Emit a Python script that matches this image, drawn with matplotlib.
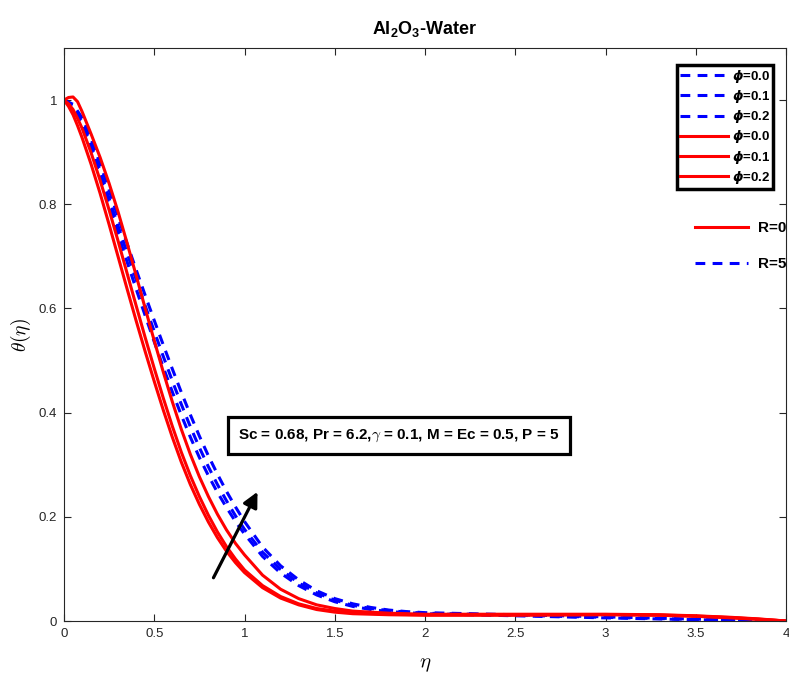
import matplotlib
matplotlib.use("Agg")
import matplotlib.pyplot as plt
from matplotlib.lines import Line2D

plt.rcParams['font.family'] = ['Liberation Sans', 'DejaVu Sans']
plt.rcParams['mathtext.fontset'] = 'custom'
plt.rcParams['mathtext.bf'] = 'Liberation Sans:bold'
plt.rcParams['mathtext.rm'] = 'Liberation Sans'
plt.rcParams['mathtext.it'] = 'DejaVu Sans:italic:bold'

# ---------------- data ----------------
eta_r = [0, 0.025, 0.05, 0.075, 0.1, 0.15, 0.2, 0.25, 0.3, 0.35, 0.4, 0.45, 0.5, 0.55,
         0.6, 0.65, 0.7, 0.75, 0.8, 0.85, 0.9, 0.95, 1.0, 1.1, 1.2, 1.3, 1.4, 1.5,
         1.6, 1.8, 2.0, 2.5, 3.0, 3.3, 3.5, 3.7, 3.85, 4.0]
# R = 0 (solid red), phi = 0.0, 0.1, 0.2
red_phi0 = [1.0, 0.988, 0.972, 0.951, 0.928, 0.877, 0.821, 0.761, 0.699, 0.637, 0.576,
            0.517, 0.460, 0.405, 0.353, 0.305, 0.262, 0.224, 0.190, 0.160, 0.134,
            0.112, 0.093, 0.064, 0.044, 0.031, 0.022, 0.017, 0.014, 0.012, 0.011,
            0.011, 0.012, 0.011, 0.009, 0.006, 0.003, 0.0]
red_phi1 = [1.0, 0.993, 0.982, 0.965, 0.946, 0.899, 0.846, 0.789, 0.729, 0.667, 0.605,
            0.544, 0.485, 0.428, 0.374, 0.324, 0.279, 0.239, 0.203, 0.171, 0.143,
            0.119, 0.098, 0.068, 0.047, 0.033, 0.024, 0.019, 0.016, 0.013, 0.012,
            0.012, 0.0125, 0.0115, 0.0095, 0.0065, 0.0035, 0.0]
red_phi2 = [1.0, 1.005, 1.006, 0.997, 0.978, 0.935, 0.89, 0.84, 0.785, 0.725, 0.663,
            0.600, 0.538, 0.478, 0.421, 0.368, 0.320, 0.277, 0.239, 0.205, 0.175,
            0.149, 0.127, 0.088, 0.061, 0.043, 0.031, 0.024, 0.019, 0.015, 0.013,
            0.013, 0.013, 0.012, 0.010, 0.007, 0.004, 0.0]

eta_b = [0, 0.05, 0.1, 0.15, 0.2, 0.25, 0.3, 0.35, 0.4, 0.45, 0.5, 0.55, 0.6, 0.65,
         0.7, 0.75, 0.8, 0.85, 0.9, 0.95, 1.0, 1.1, 1.2, 1.3, 1.4, 1.5, 1.6, 1.7,
         1.8, 1.9, 2.0, 2.5, 3.0, 3.5, 4.0]
# R = 5 (dashed blue), phi = 0.0, 0.1, 0.2
blue_phi0 = [1.0, 0.986, 0.952, 0.906, 0.853, 0.798, 0.743, 0.689, 0.637, 0.586, 0.536,
             0.487, 0.440, 0.395, 0.353, 0.314, 0.279, 0.247, 0.218, 0.191, 0.167,
             0.124, 0.092, 0.068, 0.050, 0.037, 0.028, 0.022, 0.018, 0.016, 0.014,
             0.010, 0.006, 0.0025, 0.0]
blue_phi1 = [1.0, 0.988, 0.958, 0.915, 0.864, 0.811, 0.758, 0.706, 0.655, 0.605, 0.556,
             0.508, 0.461, 0.416, 0.373, 0.333, 0.296, 0.262, 0.231, 0.202, 0.176,
             0.132, 0.099, 0.073, 0.054, 0.040, 0.030, 0.024, 0.020, 0.017, 0.015,
             0.011, 0.007, 0.003, 0.0]
blue_phi2 = [1.0, 0.992, 0.966, 0.926, 0.878, 0.827, 0.775, 0.724, 0.674, 0.625, 0.577,
             0.530, 0.484, 0.439, 0.396, 0.355, 0.317, 0.282, 0.249, 0.219, 0.191,
             0.142, 0.106, 0.079, 0.058, 0.043, 0.033, 0.026, 0.021, 0.018, 0.016,
             0.012, 0.008, 0.0035, 0.0]

phi_labels = ['0.0', '0.1', '0.2']
x_ticks = [0, 0.5, 1, 1.5, 2, 2.5, 3, 3.5, 4]
x_ticklabels = ['0', '0.5', '1', '1.5', '2', '2.5', '3', '3.5', '4']
y_ticks = [0, 0.2, 0.4, 0.6, 0.8, 1.0]
y_ticklabels = ['0', '0.2', '0.4', '0.6', '0.8', '1']
annotation = r'Sc = 0.68, Pr = 6.2,$\gamma$ = 0.1, M = Ec = 0.5, P = 5'

# ---------------- figure ----------------
fig = plt.figure(figsize=(7.89, 6.79), dpi=100)
ax = fig.add_axes([64/789, 58/679, 722/789, 573/679])

LW = 2.2
DASH = (3.2, 2.4)
blues = [blue_phi0, blue_phi1, blue_phi2]
reds = [red_phi0, red_phi1, red_phi2]
hb = []
for b in blues:
    l, = ax.plot(eta_b, b, color='#0000ff', lw=LW, linestyle=(0, DASH))
    hb.append(l)
hr = []
for r in reds:
    l, = ax.plot(eta_r, r, color='#ff0000', lw=LW, solid_joinstyle='round')
    hr.append(l)

ax.set_xlim(0, 4)
ax.set_ylim(0, 1.1)
ax.set_xticks(x_ticks)
ax.set_xticklabels(x_ticklabels)
ax.set_yticks(y_ticks)
ax.set_yticklabels(y_ticklabels)
ax.tick_params(direction='in', length=5, width=0.8, colors='#262626',
               labelsize=9.5, top=True, right=True, pad=5)
for s in ax.spines.values():
    s.set_color('#262626')
    s.set_linewidth(0.8)

ax.set_xlabel(r'$\eta$', fontsize=15, math_fontfamily='cm', labelpad=11)
ax.set_ylabel(r'$\theta(\eta)$', fontsize=14, math_fontfamily='cm', labelpad=4)
ax.set_title(r'Al$_\mathbf{2}$O$_\mathbf{3}$-Water', fontsize=13, fontweight='bold', pad=10)

# second legend (R values)
h_r0 = Line2D([], [], color='#ff0000', lw=LW)
h_r5 = Line2D([], [], color='#0000ff', lw=LW, linestyle=(0, DASH))
leg2 = ax.legend([h_r0, h_r5], ['R=0', 'R=5'], loc='upper left',
                 bbox_to_anchor=((695-64)/722, (621-221)/573), frameon=False,
                 borderpad=0, borderaxespad=0, handlelength=3.5, handletextpad=0.6,
                 labelspacing=1.45, prop={'weight': 'bold', 'size': 11})
ax.add_artist(leg2)

# first legend (phi values)
labels = [r'$\phi$=' + p for p in phi_labels] * 2
leg1 = ax.legend(hb + hr, labels, loc='upper right',
                 bbox_to_anchor=((773-64)/722, (621-65)/573), borderaxespad=0,
                 fancybox=False, handlelength=3.6, handletextpad=0.3,
                 labelspacing=0.24, borderpad=0.22,
                 prop={'weight': 'bold', 'size': 9.5})
leg1.get_frame().set_edgecolor('black')
leg1.get_frame().set_linewidth(2.5)
leg1.get_frame().set_alpha(1)

ax.text(1.856, 0.356, annotation, ha='center', va='center', fontsize=11,
        fontweight='bold', math_fontfamily='cm',
        bbox=dict(boxstyle='square,pad=0.65', facecolor='white',
                  edgecolor='black', linewidth=2.3))

ax.annotate('', xy=(1.072, 0.248), xytext=(0.828, 0.083),
            arrowprops=dict(arrowstyle='-|>,head_length=0.9,head_width=0.45',
                            color='black', lw=2.3, shrinkA=0, shrinkB=0))

fig.savefig('out.png', dpi=100)
